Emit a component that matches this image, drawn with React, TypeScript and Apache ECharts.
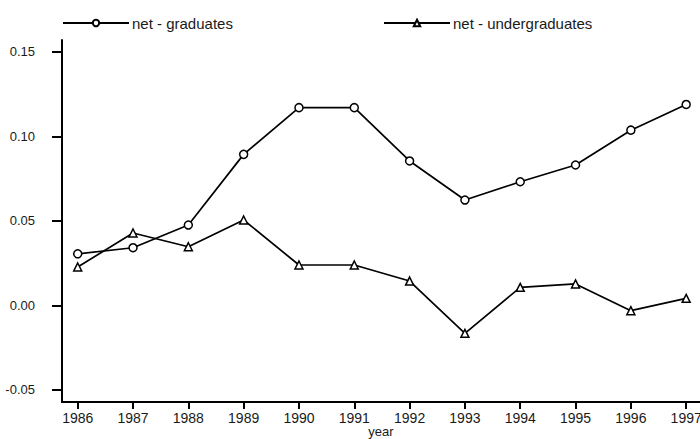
import React, { useEffect, useRef } from "react";
import * as echarts from "echarts";

const years = [1986, 1987, 1988, 1989, 1990, 1991, 1992, 1993, 1994, 1995, 1996, 1997];
const graduates = [0.0305, 0.0341, 0.0475, 0.0893, 0.1169, 0.1169, 0.0854, 0.0623, 0.0731, 0.083, 0.1036, 0.1188];
const undergraduates = [0.0227, 0.0428, 0.0347, 0.0505, 0.0239, 0.0239, 0.0144, -0.0165, 0.0107, 0.0127, -0.0031, 0.0042];
const yTicks = [-0.05, 0, 0.05, 0.1, 0.15];
const seriesNames = ["net - graduates", "net - undergraduates"];

const FONT = "Liberation Sans";
const INK = "#1a1a1a";

export default function App() {
  const ref = useRef<HTMLDivElement>(null);
  useEffect(() => {
    if (!ref.current) return;
    const chart = echarts.init(ref.current, null, { renderer: "svg" });
    const markerStyle = { color: "#fff", borderColor: "#000", borderWidth: 1.5 };
    const legendBase = {
      top: 15,
      padding: 0,
      itemWidth: 66,
      itemHeight: 8,
      itemGap: 0,
      textStyle: { fontFamily: FONT, fontSize: 15, color: INK, padding: [0, 0, 0, -2], lineHeight: 16 },
      selectedMode: false,
    };
    chart.setOption({
      animation: false,
      backgroundColor: "#fff",
      legend: [
        { ...legendBase, left: 62, data: [seriesNames[0]] },
        { ...legendBase, left: 383, data: [seriesNames[1]] },
      ],
      grid: { left: 62, right: 0, top: 40, bottom: 37, containLabel: false, outerBoundsMode: "none" },
      xAxis: {
        type: "value",
        min: 1985.716,
        max: 1997.25,
        name: "year",
        nameLocation: "middle",
        nameGap: 23,
        nameMoveOverlap: false,
        nameTextStyle: { fontFamily: FONT, fontSize: 13, color: INK, lineHeight: 13, verticalAlign: "top" },
        splitLine: { show: false },
        axisLine: { show: true, onZero: false, lineStyle: { color: "#000", width: 2 } },
        axisTick: { show: true, length: 7, lineStyle: { color: "#000", width: 2 }, customValues: years },
        axisLabel: {
          fontFamily: FONT,
          fontSize: 14,
          color: INK,
          margin: 9,
          customValues: years,
          formatter: (v: number) => String(Math.round(v)),
        },
      },
      yAxis: {
        type: "value",
        min: -0.0571,
        max: 0.1569,
        splitLine: { show: false },
        axisLine: { show: true, lineStyle: { color: "#000", width: 2 } },
        axisTick: { show: true, length: 10, lineStyle: { color: "#000", width: 2 }, customValues: yTicks },
        axisLabel: {
          fontFamily: FONT,
          fontSize: 13,
          color: INK,
          margin: 27,
          customValues: yTicks,
          formatter: (v: number) => v.toFixed(2),
        },
      },
      series: [
        {
          name: seriesNames[0],
          type: "line",
          data: years.map((y, i) => [y, graduates[i]]),
          symbol: "circle",
          symbolSize: 8,
          showAllSymbol: true,
          lineStyle: { color: "#000", width: 1.7 },
          itemStyle: markerStyle,
          color: "#000",
        },
        {
          name: seriesNames[1],
          type: "line",
          data: years.map((y, i) => [y, undergraduates[i]]),
          symbol: "triangle",
          symbolSize: 8,
          showAllSymbol: true,
          lineStyle: { color: "#000", width: 1.7 },
          itemStyle: markerStyle,
          color: "#000",
        },
      ],
    });
    return () => chart.dispose();
  }, []);
  return <div ref={ref} style={{ width: 700, height: 439, position: "absolute", left: 0, top: 0 }} />;
}
